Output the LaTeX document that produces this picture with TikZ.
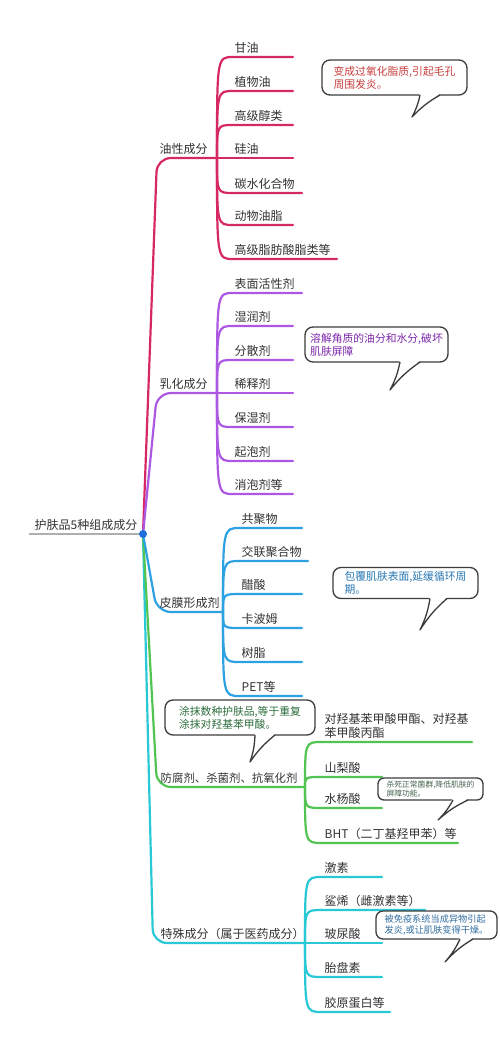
\documentclass[tikz,border=0pt]{standalone}
\usepackage{fontspec}
\setmainfont{Noto Sans CJK SC}
\usetikzlibrary{positioning}
\definecolor{txtc}{RGB}{51,51,51}
\definecolor{rootc}{RGB}{175,175,175}
\definecolor{dotc}{RGB}{30,110,220}
\definecolor{oilc}{RGB}{214,40,100}
\definecolor{emuc}{RGB}{172,88,226}
\definecolor{filmc}{RGB}{45,162,226}
\definecolor{presc}{RGB}{82,196,82}
\definecolor{specc}{RGB}{40,200,214}
\definecolor{bubc}{RGB}{60,60,60}
\definecolor{oilt}{RGB}{200,62,62}
\definecolor{emut}{RGB}{125,40,170}
\definecolor{filmt}{RGB}{40,120,180}
\definecolor{prest}{RGB}{45,110,60}
\definecolor{acidt}{RGB}{70,100,80}
\definecolor{spect}{RGB}{50,110,160}
\tikzset{
  lbl/.style={inner sep=0.5pt, text=txtc, align=left, font=\fontsize{12}{14}\selectfont},
  br/.style={line width=2.2pt, line cap=round, line join=round},
  bubble/.style={draw=bubc, line width=1.3pt, fill=white, rounded corners=8pt, align=left, inner sep=0pt},
  tail/.style={draw=bubc, line width=1.3pt, line join=round},
}
\begin{document}
\begin{tikzpicture}[x=1pt,y=-1pt]
  \useasboundingbox[fill=white] (0,0) rectangle (500,1041);
  % root
  \coordinate (root) at (143,534);
  \coordinate (root-w) at (29,534);
  \node[lbl, above right=3pt and 5pt of root-w] (root-l) {护肤品5种组成成分};
  \draw[line width=2pt, rootc] (root-w) -- (root);

  % main branches
  \coordinate (oil-k) at (157,158);  \coordinate (oil-hub) at (217,158);
  \coordinate (emu-k) at (157,393);  \coordinate (emu-hub) at (217,393);
  \coordinate (film-k) at (157,612); \coordinate (film-hub) at (223,612);
  \coordinate (pres-k) at (157,787); \coordinate (pres-hub) at (305,787);
  \coordinate (spec-k) at (153,943); \coordinate (spec-hub) at (305,943);
  \draw[br, oilc, rounded corners=14pt] (root) -- (oil-k) -- (oil-hub);
  \draw[br, emuc, rounded corners=14pt] (root) -- (emu-k) -- (emu-hub);
  \draw[br, specc, rounded corners=14pt] (root) -- (spec-k) -- (spec-hub);
  \draw[br, presc, rounded corners=14pt] (root) -- (pres-k) -- (pres-hub);
  \draw[br, filmc, rounded corners=14pt] (root) -- (film-k) -- (film-hub);
  \node[lbl, above right=3pt and 2pt of oil-k] (oil) {油性成分};
  \node[lbl, above right=3pt and 2pt of emu-k] (emu) {乳化成分};
  \node[lbl, above right=3pt and 2pt of film-k] (film) {皮膜形成剂};
  \node[lbl, above right=3pt and 3pt of pres-k, font=\fontsize{11.4}{14}\selectfont] (pres) {防腐剂、杀菌剂、抗氧化剂};
  \node[lbl, above right=3pt and 7pt of spec-k] (spec) {特殊成分（属于医药成分）};

  % children
  \foreach \t/\y/\xe [count=\i] in {甘油/57/293, 植物油/91/293, 高级醇类/125/293,
      硅油/158/293, 碳水化合物/193/302, 动物油脂/225/293, 高级脂肪酸脂类等/259/337} {
    \coordinate (oil-s\i) at (233,\y);
    \coordinate (oil-e\i) at (\xe,\y);
    \node[lbl, above right=3pt and 1pt of oil-s\i] (oil-\i) {\t};
    \draw[br, oilc] (oil-hub) .. controls (oil-hub |- oil-s\i) .. (oil-s\i) -- (oil-e\i);
  }
  \foreach \t/\y/\xe [count=\i] in {表面活性剂/293/302, 湿润剂/326/293, 分散剂/360/293,
      稀释剂/393/293, 保湿剂/427/293, 起泡剂/461/293, 消泡剂等/494/293} {
    \coordinate (emu-s\i) at (233,\y);
    \coordinate (emu-e\i) at (\xe,\y);
    \node[lbl, above right=3pt and 1pt of emu-s\i] (emu-\i) {\t};
    \draw[br, emuc] (emu-hub) .. controls (emu-hub |- emu-s\i) .. (emu-s\i) -- (emu-e\i);
  }
  \foreach \t/\y/\xe [count=\i] in {共聚物/528/302, 交联聚合物/561/308, 醋酸/594/302,
      卡波姆/628/302, 树脂/662/302, PET等/696/302} {
    \coordinate (film-s\i) at (240,\y);
    \coordinate (film-e\i) at (\xe,\y);
    \node[lbl, above right=3pt and 1pt of film-s\i] (film-\i) {\t};
    \draw[br, filmc] (film-hub) .. controls (film-hub |- film-s\i) .. (film-s\i) -- (film-e\i);
  }
  \foreach \t/\y/\xe [count=\i] in {{对羟基苯甲酸甲酯、对羟基\\苯甲酸丙酯}/742/472,
      山梨酸/777/382, 水杨酸/808/382, BHT（二丁基羟甲苯）等/843/458} {
    \coordinate (pres-s\i) at (322,\y);
    \coordinate (pres-e\i) at (\xe,\y);
    \node[lbl, above right=3pt and 2pt of pres-s\i] (pres-\i) {\t};
    \draw[br, presc] (pres-hub) .. controls (pres-hub |- pres-s\i) .. (pres-s\i) -- (pres-e\i);
  }
  \foreach \t/\y/\xe [count=\i] in {激素/877/382, 鲨烯（雌激素等）/910/425, 玻尿酸/943/382,
      胎盘素/977/382, 胶原蛋白等/1012/390} {
    \coordinate (spec-s\i) at (322,\y);
    \coordinate (spec-e\i) at (\xe,\y);
    \node[lbl, above right=3pt and 2pt of spec-s\i] (spec-\i) {\t};
    \draw[br, specc] (spec-hub) .. controls (spec-hub |- spec-s\i) .. (spec-s\i) -- (spec-e\i);
  }
  \fill[dotc] (root) circle (4pt);

  % callouts
  \node[bubble, minimum width=145pt, minimum height=35pt, text=oilt,
    font=\fontsize{10.8}{13}\selectfont] (bub-oil) at (394.5,77.5) {变成过氧化脂质,引起毛孔\\周围发炎。};
  \node[bubble, minimum width=143pt, minimum height=35pt, text=emut,
    font=\fontsize{10.8}{13}\selectfont] (bub-emu) at (376.5,344.5) {溶解角质的油分和水分,破坏\\肌肤屏障};
  \node[bubble, minimum width=145pt, minimum height=31pt, text=filmt,
    font=\fontsize{10.8}{13}\selectfont] (bub-film) at (405.5,583) {包覆肌肤表面,延缓循环周\\期。};
  \node[bubble, minimum width=150pt, minimum height=35pt, text=prest,
    font=\fontsize{10.8}{13}\selectfont] (bub-pres) at (240,717.5) {涂抹数种护肤品,等于重复\\涂抹对羟基苯甲酸。};
  \node[bubble, minimum width=105pt, minimum height=22pt, text=acidt, rounded corners=6pt,
    font=\fontsize{7.8}{9.5}\selectfont] (bub-acid) at (430.5,789) {杀死正常菌群,降低肌肤的\\屏障功能。};
  \node[bubble, minimum width=121pt, minimum height=28pt, text=spect, rounded corners=7pt,
    font=\fontsize{9.2}{11}\selectfont] (bub-spec) at (436.5,925) {被免疫系统当成异物引起\\发炎,或让肌肤变得干燥。};
  \foreach \b/\ax/\bx/\by/\tx/\ty in {oil/420/440/95/412/117, emu/400/420/362/390/390,
      film/430/447/598.5/420/630, pres/255/275/735/250/762, acid/453/468/800/438/820,
      spec/460/473/939/445/962} {
    \coordinate (\b-ta) at (\ax,\by);
    \coordinate (\b-tb) at (\bx,\by);
    \coordinate (\b-tip) at (\tx,\ty);
    \fill[white] ([yshift=1.6pt]\b-ta) -- (\b-tip) -- ([yshift=1.6pt]\b-tb) -- cycle;
    \draw[tail] (\b-ta) to[bend left=8] (\b-tip) to[bend left=8] (\b-tb);
  }
\end{tikzpicture}
\end{document}
